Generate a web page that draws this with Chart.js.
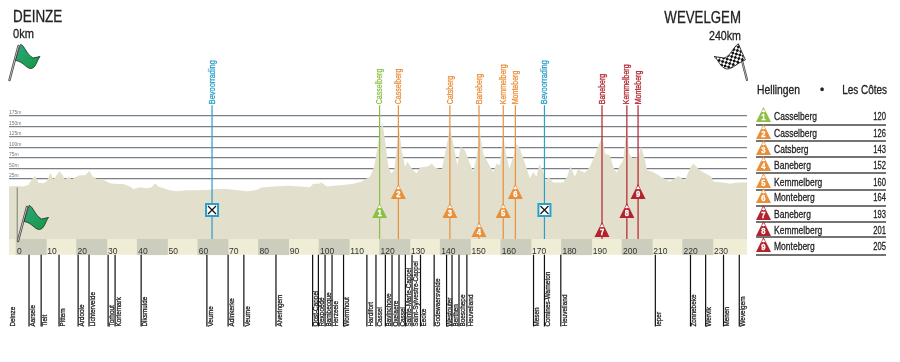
<!DOCTYPE html>
<html>
<head>
<meta charset="utf-8">
<title>Gent-Wevelgem profile</title>
<script src="https://cdn.jsdelivr.net/npm/chart.js@4/dist/chart.umd.min.js"></script>
<style>
  html, body { margin: 0; padding: 0; background: #fff; }
  canvas { display: block; }
</style>
</head>
<body>
<canvas id="profile" width="900" height="362"></canvas>
<script>
// course profile
const profileKm = [-2.3, 0.2, 2.4, 4.1, 5.2, 6.3, 7.4, 9, 10.1, 11.4, 12.3, 13.4, 14.3, 15.4, 16.2, 17.3, 18.4, 19.5, 21.1, 22.8, 24.2, 25.3, 26.6, 28.8, 31, 33.2, 35.4, 37.6, 38.7, 40.9, 43.1, 44.8, 45.9, 47, 48.6, 50.8, 53, 56.3, 59.6, 62.9, 66.2, 69.5, 72.8, 76.1, 79.4, 81.1, 84.9, 89.3, 93.7, 97, 98.1, 99.8, 100.9, 102.5, 104.7, 108, 111.3, 114.1, 116.8, 118.2, 119.3, 120.1, 120.9, 121.8, 122.9, 123.8, 124.8, 125.7, 126.4, 127.3, 128.4, 129.2, 130.6, 132.2, 133.3, 136, 137.2, 138.3, 140.5, 141.8, 143.2, 144.6, 145.6, 146.8, 148.2, 149.8, 150.9, 152, 153.1, 154.2, 155.9, 157.5, 158.6, 159.7, 160.8, 161.7, 162.8, 164.1, 165.2, 166.3, 168, 169.6, 170.7, 171.8, 172.7, 173.8, 174.9, 175.7, 177.3, 180.6, 181.9, 183, 184.4, 185.5, 187.7, 189.4, 191, 192.7, 193.5, 194.4, 196, 197.1, 198.2, 199.3, 200.4, 201.5, 202.4, 203.5, 205.4, 206.3, 207.6, 208.3, 210.3, 212, 213, 215.8, 218.6, 220.7, 222.4, 223.5, 225.7, 229.5, 230.1, 233.4, 235.6, 238.4, 241.25]
const profileElev = [7, 8.6, 7, 11, 24, 33, 16.4, 15, 19, 40, 24, 34, 44, 34, 23, 31, 24, 29, 34, 34, 44, 31, 25, 23, 15, 13, 13, 7, 1, 5.5, 3, 5.5, 15, 7, 3, -2, -4, -2, -2, -1, 1, 1, -1, -4, -1, 5, 7, 9, 7, 5.6, 13.5, 13.5, 17, 7, 9, 11, 13.5, 19, 30.6, 54, 101, 140, 159.5, 116.6, 54, 38, 46, 101, 148, 93, 54, 66, 50, 38, 52.5, 55.6, 62, 52.5, 46, 93, 144, 101, 58, 102.5, 93, 62, 42, 77.5, 136, 85, 62, 42, 62, 58, 132, 85, 50, 77.5, 109, 97, 62, 27, 42, 30.6, 60, 46, 19, 30.6, 16.6, 16.6, 30.6, 55.6, 30.6, 48, 40, 54, 81, 113, 124, 85, 81, 54, 40, 58, 70, 148, 85, 73.6, 77.5, 102.5, 70, 46, 42, 34.6, 29, 19, 32, 21, 50, 62, 46, 30.6, 19, 16.6, 13.5, 16.6, 16.6]

const elevTicks = [25, 50, 75, 100, 125, 150, 175]
const kmTicks = [0, 10, 20, 30, 40, 50, 60, 70, 80, 90, 100, 110, 120, 130, 140, 150, 160, 170, 180, 190, 200, 210, 220, 230]
const greyBandCentres = [5, 25, 45, 65, 85, 105, 125, 145, 165, 185, 205, 225]

const climbNames = ["Casselberg", "Casselberg", "Catsberg", "Baneberg", "Kemmelberg", "Monteberg", "Baneberg", "Kemmelberg", "Monteberg"]
const climbKmLabels = [120, 126, 143, 152, 160, 164, 193, 201, 205]
const climbKm = [120, 126.2, 143.2, 152.8, 160.8, 164.8, 193.4, 201.6, 205.3]
const feedKm = [64.7, 174.4]

const townNames = ["Deinze", "Aarsele", "Tielt", "Pittem", "Ardooie", "Lichtervelde", "Torhout", "Kortemark", "Diksmuide", "Veurne", "Adinkerke", "Veurne", "Alveringem", "Oost-Cappel", "Rexpoëde", "Bambecque", "Herzeele", "Wormhout", "Hardifort", "Cassel", "Bavinchove", "Oxelaere", "Cassel", "Sainte-Marie-Cappel", "Saint-Sylvestre-Cappel", "Eecke", "Godewaersvelde", "Westouter", "Berthen", "Boeschepe", "Heuvelland", "Mesen", "Comines-Warneton", "Heuvelland", "Ieper", "Zonnebeke", "Wervik", "Menen", "Wevelgem"]
const townKm = [-2.3, 4.3, 8.3, 14.2, 20.5, 24.1, 30.4, 32.7, 41.3, 63, 70, 75.2, 85.8, 97.9, 99.8, 102, 104.3, 108.1, 115.8, 118.8, 121.9, 124.1, 126.4, 128.5, 130.7, 133.5, 138, 142.1, 143.9, 146.2, 148.8, 170.8, 174.4, 179.8, 211, 222.6, 227.6, 233.5, 238.7]

// no narrow face installed, text gets squeezed horizontally instead
const FONT = '"Liberation Sans", sans-serif'
const GREEN = "#8dbf45"
const ORANGE = "#e88f3a"
const RED = "#b3232d"
const BLUE = "#2a9fc9"
const AXIS_BASE = -118 // bottom of the profile
const BAND_BASE = -155.5
const TOWN_BASE = -326.6
const MARK_TOP = 200.8

const climbColor = (i) => (i === 0 ? GREEN : i < 6 ? ORANGE : RED)

// vertical lines with gaps between them
const verticals = (kms, top, base) => {
    const points = []
    kms.forEach((km) => {
        points.push({ x: km, y: base }, { x: km, y: top }, { x: km, y: null })
    })
    return points
}

// squeezed text looks thin, a hairline stroke brings the weight back
const paintText = (ctx, text, color) => {
    ctx.fillStyle = color
    ctx.strokeStyle = color
    ctx.lineWidth = 0.3
    ctx.fillText(text, 0, 0)
    ctx.strokeText(text, 0, 0)
}

const narrowText = (ctx, text, x, y, font, squeeze, align, color) => {
    ctx.save()
    ctx.translate(x, y)
    ctx.scale(squeeze, 1)
    ctx.font = font
    ctx.textAlign = align || "left"
    paintText(ctx, text, color || "#222")
    ctx.restore()
}

const upText = (ctx, text, x, y, color, font, squeeze) => {
    ctx.save()
    ctx.translate(x, y)
    ctx.rotate(-Math.PI / 2)
    ctx.scale(squeeze, 1)
    ctx.font = font
    ctx.textAlign = "left"
    ctx.textBaseline = "middle"
    paintText(ctx, text, color)
    ctx.restore()
}

const mountain = (ctx, cx, top, size, color, label) => {
    ctx.fillStyle = color
    ctx.beginPath()
    ctx.moveTo(cx, top)
    ctx.lineTo(cx + size / 2, top + size)
    ctx.lineTo(cx - size / 2, top + size)
    ctx.closePath()
    ctx.fill()
    // snow cap
    ctx.fillStyle = "#fff"
    ctx.beginPath()
    ctx.moveTo(cx, top + 2)
    ctx.lineTo(cx + 2.4, top + 5.5)
    ctx.lineTo(cx + 0.9, top + 4.7)
    ctx.lineTo(cx, top + 5.5)
    ctx.lineTo(cx - 0.9, top + 4.7)
    ctx.lineTo(cx - 2.4, top + 5.5)
    ctx.closePath()
    ctx.fill()
    ctx.textBaseline = "middle"
    narrowText(ctx, label, cx, top + size - 4.5, `bold 9px ${FONT}`, 0.85, "center", "#fff")
}

const greenFlag = (ctx, dx, dy) => {
    ctx.save()
    ctx.translate(dx, dy)
    ctx.lineCap = "round"
    ctx.strokeStyle = "#444"
    ctx.lineWidth = 2.4
    ctx.beginPath()
    ctx.moveTo(9.5, 80)
    ctx.lineTo(18.5, 46)
    ctx.stroke()
    ctx.strokeStyle = "#c9c9c9"
    ctx.lineWidth = 0.9
    ctx.stroke()
    const grad = ctx.createLinearGradient(18, 45, 38, 68)
    grad.addColorStop(0, "#2aa578")
    grad.addColorStop(1, "#169a45")
    ctx.fillStyle = grad
    ctx.strokeStyle = "#1d2a22"
    ctx.lineWidth = 0.8
    ctx.beginPath()
    ctx.moveTo(21, 44.5)
    ctx.bezierCurveTo(25, 46, 26, 54, 33, 58)
    ctx.lineTo(40, 56.5)
    ctx.bezierCurveTo(37, 60, 36, 68, 31, 68.5)
    ctx.bezierCurveTo(26, 68.5, 24, 62, 16, 60.5)
    ctx.closePath()
    ctx.fill()
    ctx.stroke()
    ctx.restore()
}

const finishFlag = (ctx) => {
    ctx.save()
    ctx.lineCap = "round"
    ctx.strokeStyle = "#444"
    ctx.lineWidth = 2.2
    ctx.beginPath()
    ctx.moveTo(738, 45)
    ctx.lineTo(747, 80)
    ctx.stroke()
    ctx.strokeStyle = "#c9c9c9"
    ctx.lineWidth = 0.8
    ctx.stroke()
    ctx.beginPath()
    ctx.moveTo(738, 44)
    ctx.bezierCurveTo(733, 47, 731, 56, 724, 58)
    ctx.lineTo(714, 56.5)
    ctx.bezierCurveTo(719, 60, 720, 68, 727, 69)
    ctx.bezierCurveTo(733, 69, 737, 63, 745, 60)
    ctx.closePath()
    ctx.fillStyle = "#fff"
    ctx.fill()
    ctx.strokeStyle = "#111"
    ctx.lineWidth = 0.8
    ctx.stroke()
    ctx.clip()
    ctx.translate(730, 56)
    ctx.rotate(-0.5)
    ctx.fillStyle = "#111"
    for (let a = -10; a < 10; a++) {
        for (let b = -10; b < 10; b++) {
            if ((a + b) % 2 === 0) ctx.fillRect(a * 2.6, b * 2.6, 2.6, 2.6)
        }
    }
    ctx.restore()
}

const feedBox = (ctx, cx, cy) => {
    ctx.fillStyle = BLUE
    ctx.fillRect(cx - 7, cy - 7, 14, 14)
    ctx.fillStyle = "#fff"
    ctx.fillRect(cx - 5, cy - 5, 10, 10)
    ctx.strokeStyle = "#111"
    ctx.lineWidth = 1.2
    ctx.beginPath()
    ctx.moveTo(cx - 4, cy - 4)
    ctx.lineTo(cx + 4, cy + 4)
    ctx.moveTo(cx + 4, cy - 4)
    ctx.lineTo(cx - 4, cy + 4)
    ctx.stroke()
}

const overlayPlugin = {
    id: "overlay",
    afterDatasetsDraw(chart) {
        const { ctx, scales } = chart
        const { x, y } = scales
        ctx.save()

        // start line under the flag on the profile
        ctx.strokeStyle = "#7b7b78"
        ctx.lineWidth = 1
        ctx.beginPath()
        ctx.moveTo(x.getPixelForValue(0.4), y.getPixelForValue(5))
        ctx.lineTo(x.getPixelForValue(0.4), y.getPixelForValue(AXIS_BASE))
        ctx.stroke()

        // climb markers sit on three staggered rows
        const markerTop = [203, 184, 203, 222, 203, 184, 222, 203, 184]
        climbKm.forEach((km, i) => {
            const cx = x.getPixelForValue(km)
            const color = climbColor(i)
            upText(ctx, climbNames[i], cx, y.getPixelForValue(MARK_TOP) - 1, color, `9.5px ${FONT}`, 0.74)
            mountain(ctx, cx, markerTop[i], 15, color, String(i + 1))
        })

        feedKm.forEach((km) => {
            const cx = x.getPixelForValue(km)
            upText(ctx, "Bevoorrading", cx, y.getPixelForValue(MARK_TOP) - 1, BLUE, `9.5px ${FONT}`, 0.78)
            feedBox(ctx, cx, 210)
        })

        townNames.forEach((name, i) => {
            upText(ctx, name, x.getPixelForValue(townKm[i]) + 3.5, y.getPixelForValue(TOWN_BASE), "#222", `8px ${FONT}`, 0.8)
        })

        // start and finish
        ctx.textBaseline = "alphabetic"
        narrowText(ctx, "DEINZE", 13, 22, `17px ${FONT}`, 0.79)
        narrowText(ctx, "0km", 13, 38, `13px ${FONT}`, 0.85)
        narrowText(ctx, "WEVELGEM", 741, 23, `17px ${FONT}`, 0.78, "right")
        narrowText(ctx, "240km", 741, 40, `13px ${FONT}`, 0.82, "right")
        greenFlag(ctx, 0, 0)
        greenFlag(ctx, 8.5, 161)
        finishFlag(ctx)

        // climbs table
        ctx.textBaseline = "middle"
        narrowText(ctx, "Hellingen", 757, 91, `12px ${FONT}`, 0.86)
        narrowText(ctx, "•", 822, 91, `12px ${FONT}`, 1, "center")
        narrowText(ctx, "Les Côtes", 887, 91, `12px ${FONT}`, 0.83, "right")

        const rowTexts = [117, 134, 150, 166, 183, 198, 215, 231, 247]
        const rowRules = [125, 141, 157, 173, 190, 206, 222, 237, 255]
        climbNames.forEach((name, i) => {
            mountain(ctx, 763.5, rowTexts[i] - 10, 15, climbColor(i), String(i + 1))
            ctx.textBaseline = "middle"
            narrowText(ctx, name, 774, rowTexts[i], `11.5px ${FONT}`, 0.74)
            narrowText(ctx, String(climbKmLabels[i]), 886, rowTexts[i], `11.5px ${FONT}`, 0.66, "right")
            ctx.strokeStyle = "#444"
            ctx.lineWidth = 1.5
            ctx.beginPath()
            ctx.moveTo(756, rowRules[i])
            ctx.lineTo(886, rowRules[i])
            ctx.stroke()
        })
        ctx.restore()
    },
}

new Chart(document.getElementById("profile"), {
    type: "line",
    data: {
        datasets: [
            {
                label: "towns",
                data: verticals(townKm.slice(1), BAND_BASE, TOWN_BASE),
                borderColor: "#111",
                borderWidth: 1.2,
                pointRadius: 0,
                order: 1,
            },
            ...[GREEN, ORANGE, RED].map((color) => ({
                label: color,
                data: verticals(climbKm.filter((km, i) => climbColor(i) === color), MARK_TOP, AXIS_BASE),
                borderColor: color,
                borderWidth: 1.2,
                pointRadius: 0,
                order: 2,
            })),
            {
                label: "feed",
                data: verticals(feedKm, MARK_TOP, AXIS_BASE),
                borderColor: BLUE,
                borderWidth: 1.2,
                pointRadius: 0,
                order: 2,
            },
            {
                label: "profile",
                data: profileKm.map((km, i) => ({ x: km, y: profileElev[i] })),
                borderWidth: 0,
                borderColor: "#e2e0cc",
                backgroundColor: "#e2e0cc",
                pointRadius: 0,
                tension: 0,
                fill: { value: AXIS_BASE },
                order: 3,
            },
            {
                type: "bar",
                label: "bands",
                data: greyBandCentres.map((km) => ({ x: km, y: [BAND_BASE, AXIS_BASE] })),
                backgroundColor: "#cdcdbd",
                categoryPercentage: 1,
                barPercentage: 1,
                order: 4,
            },
            {
                label: "strip",
                data: [{ x: -2.31, y: AXIS_BASE }, { x: 241.25, y: AXIS_BASE }],
                borderWidth: 0,
                backgroundColor: "#efedd6",
                pointRadius: 0,
                fill: { value: BAND_BASE },
                order: 5,
            },
        ],
    },
    options: {
        responsive: false,
        animation: false,
        layout: { padding: { left: 9, right: 153, top: 0, bottom: 0 } },
        plugins: {
            legend: { display: false },
            tooltip: { enabled: false },
        },
        scales: {
            x: {
                type: "linear",
                position: { y: AXIS_BASE },
                min: -2.31,
                max: 241.25,
                offset: false,
                grid: { display: false, offset: false },
                border: { display: false },
                afterBuildTicks: (scale) => {
                    scale.ticks = kmTicks.map((value) => ({ value }))
                },
                ticks: {
                    z: 1,
                    align: "start",
                    labelOffset: 1,
                    padding: 0,
                    maxRotation: 0,
                    autoSkip: false,
                    color: "#333",
                    font: { family: FONT, size: 8.5 },
                },
            },
            y: {
                type: "linear",
                min: -403.9,
                max: 444.5,
                afterFit: (scale) => {
                    scale.width = 0
                },
                afterBuildTicks: (scale) => {
                    scale.ticks = elevTicks.map((value) => ({ value }))
                },
                grid: { color: "#7b8085", lineWidth: 1.3, drawTicks: false },
                border: { display: false },
                ticks: {
                    z: 1,
                    mirror: true,
                    padding: 0,
                    labelOffset: -3,
                    autoSkip: false,
                    color: "#777",
                    font: { family: FONT, size: 5 },
                    callback: (value) => `${value}m`,
                },
            },
        },
    },
    plugins: [overlayPlugin],
})
</script>
</body>
</html>
